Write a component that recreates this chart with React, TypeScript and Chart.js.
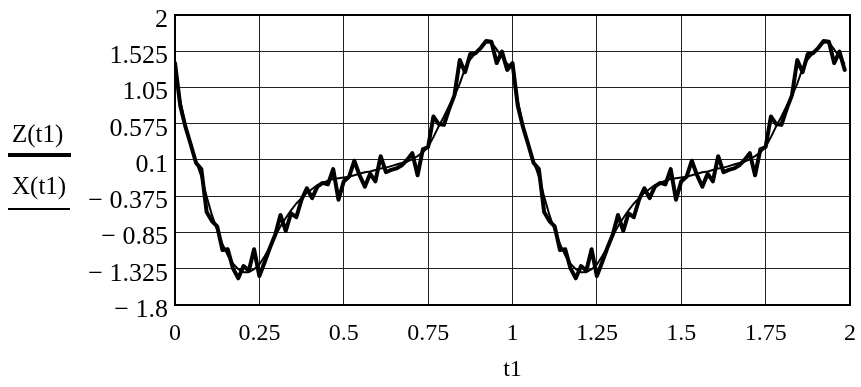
import React, { useEffect, useRef } from "react";
import { Chart, registerables } from "chart.js";

Chart.register(...registerables);

// Sampling: 64 samples per unit of t1, t1 = index / 64
const SAMPLES_PER_UNIT = 64;

// Z(t1): noisy signal (thick line), first period t1 in [0, 1)
const Z_PERIOD_1 = [
  1.37, 0.81, 0.53, 0.3, 0.06, -0.02, -0.58, -0.7, -0.77, -1.08, -1.07, -1.32, -1.45, -1.29, -1.35, -1.07,
  -1.42, -1.24, -1.05, -0.88, -0.62, -0.83, -0.6, -0.65, -0.42, -0.27, -0.4, -0.25, -0.2, -0.22, -0.02, -0.42,
  -0.18, -0.12, 0.09, -0.1, -0.25, -0.08, -0.18, 0.15, -0.06, -0.03, -0.01, 0.03, 0.1, 0.19, -0.1, 0.24,
  0.27, 0.67, 0.57, 0.56, 0.77, 0.95, 1.41, 1.25, 1.49, 1.5, 1.57, 1.66, 1.65, 1.37, 1.52, 1.28,
];
// Z(t1): second period t1 in [1, 2)
const Z_PERIOD_2 = [
  1.37, 0.81, 0.53, 0.3, 0.06, -0.02, -0.58, -0.7, -0.77, -1.08, -1.07, -1.32, -1.45, -1.29, -1.35, -1.07,
  -1.42, -1.24, -1.05, -0.88, -0.62, -0.83, -0.6, -0.65, -0.42, -0.27, -0.4, -0.25, -0.2, -0.22, -0.02, -0.42,
  -0.18, -0.12, 0.09, -0.1, -0.25, -0.08, -0.18, 0.15, -0.06, -0.03, -0.01, 0.03, 0.1, 0.19, -0.1, 0.24,
  0.27, 0.67, 0.57, 0.56, 0.77, 0.95, 1.41, 1.25, 1.49, 1.5, 1.57, 1.66, 1.65, 1.37, 1.52, 1.28,
];

// X(t1): smooth signal (thin line)
const X_PERIOD_1 = [
  1.33, 0.88, 0.55, 0.3, 0.08, -0.12, -0.38, -0.62, -0.82, -1.0, -1.15, -1.26, -1.33, -1.37, -1.37, -1.33,
  -1.27, -1.16, -1.04, -0.9, -0.77, -0.66, -0.56, -0.47, -0.4, -0.33, -0.28, -0.23, -0.2, -0.17, -0.15, -0.14,
  -0.13, -0.12, -0.1, -0.08, -0.06, -0.05, -0.03, -0.01, 0.0, 0.02, 0.04, 0.06, 0.08, 0.11, 0.15, 0.2,
  0.27, 0.4, 0.54, 0.67, 0.81, 0.94, 1.1, 1.3, 1.42, 1.5, 1.57, 1.64, 1.64, 1.55, 1.45, 1.36,
];
const X_PERIOD_2 = [
  1.33, 0.88, 0.55, 0.3, 0.08, -0.12, -0.38, -0.62, -0.82, -1.0, -1.15, -1.26, -1.33, -1.37, -1.37, -1.33,
  -1.27, -1.16, -1.04, -0.9, -0.77, -0.66, -0.56, -0.47, -0.4, -0.33, -0.28, -0.23, -0.2, -0.17, -0.15, -0.14,
  -0.13, -0.12, -0.1, -0.08, -0.06, -0.05, -0.03, -0.01, 0.0, 0.02, 0.04, 0.06, 0.08, 0.11, 0.15, 0.2,
  0.27, 0.4, 0.54, 0.67, 0.81, 0.94, 1.1, 1.3, 1.42, 1.5, 1.57, 1.64, 1.64, 1.55, 1.45, 1.36,
];

const Y_TICKS = [2, 1.525, 1.05, 0.575, 0.1, -0.375, -0.85, -1.325, -1.8];
const Y_TICK_LABELS = ["2", "1.525", "1.05", "0.575", "0.1", "\u2212 0.375", "\u2212 0.85", "\u2212 1.325", "\u2212 1.8"];
const X_TICKS = [0, 0.25, 0.5, 0.75, 1, 1.25, 1.5, 1.75, 2];
const X_TICK_LABELS = ["0", "0.25", "0.5", "0.75", "1", "1.25", "1.5", "1.75", "2"];

const SERIES_NAMES = ["Z(t1)", "X(t1)"];
const X_TITLE = "t1";

const FONT_FAMILY = "'Liberation Serif', 'Times New Roman', serif";

function toPoints(values: number[]) {
  return values.map((v, i) => ({ x: i / SAMPLES_PER_UNIT, y: v }));
}

function clearScalePadding(scale: any) {
  scale.paddingLeft = 0;
  scale.paddingRight = 0;
  scale.paddingTop = 0;
  scale.paddingBottom = 0;
}

const decorPlugin = {
  id: "decor",
  afterDraw(chart: any) {
    const { ctx, chartArea } = chart;
    ctx.save();
    // plot frame
    ctx.strokeStyle = "#000";
    ctx.lineWidth = 2;
    ctx.strokeRect(chartArea.left, chartArea.top, chartArea.right - chartArea.left, chartArea.bottom - chartArea.top);

    // x title
    ctx.fillStyle = "#000";
    ctx.font = `24px ${FONT_FAMILY}`;
    ctx.textAlign = "center";
    ctx.textBaseline = "alphabetic";
    ctx.fillText(X_TITLE, (chartArea.left + chartArea.right) / 2, chartArea.bottom + 71);

    // legend on the left
    ctx.font = `25px ${FONT_FAMILY}`;
    ctx.textAlign = "left";
    ctx.fillText(SERIES_NAMES[0], 12, 142);
    ctx.fillText(SERIES_NAMES[1], 12, 194);
    ctx.lineCap = "butt";
    ctx.lineWidth = 4;
    ctx.beginPath();
    ctx.moveTo(8, 155);
    ctx.lineTo(71, 155);
    ctx.stroke();
    ctx.lineWidth = 2;
    ctx.beginPath();
    ctx.moveTo(8, 209);
    ctx.lineTo(70, 209);
    ctx.stroke();
    ctx.restore();
  },
};

export default function App() {
  const canvasRef = useRef<HTMLCanvasElement | null>(null);

  useEffect(() => {
    const canvas = canvasRef.current;
    if (!canvas) return;
    const zData = toPoints(Z_PERIOD_1.concat(Z_PERIOD_2));
    const xData = toPoints(X_PERIOD_1.concat(X_PERIOD_2));

    const chart = new Chart(canvas, {
      type: "line",
      data: {
        datasets: [
          {
            label: SERIES_NAMES[0],
            data: zData,
            borderColor: "#000",
            borderWidth: 4,
            pointRadius: 0,
            tension: 0,
            borderJoinStyle: "round",
            borderCapStyle: "round",
          },
          {
            label: SERIES_NAMES[1],
            data: xData,
            borderColor: "#000",
            borderWidth: 2,
            pointRadius: 0,
            tension: 0,
            borderJoinStyle: "round",
          },
        ],
      },
      options: {
        responsive: false,
        animation: false,
        layout: { padding: { left: 0, right: 11, top: 15, bottom: 0 } },
        plugins: {
          legend: { display: false },
          tooltip: { enabled: false },
        },
        scales: {
          x: {
            type: "linear",
            min: 0,
            max: 2,
            afterBuildTicks: (scale: any) => {
              scale.ticks = X_TICKS.map((v) => ({ value: v }));
            },
            afterFit: (scale: any) => {
              scale.height = 82;
              clearScalePadding(scale);
            },
            ticks: {
              autoSkip: false,
              maxRotation: 0,
              padding: 14,
              color: "#000",
              font: { family: FONT_FAMILY, size: 24 },
              callback: (_v: any, i: number) => X_TICK_LABELS[i],
            },
            grid: { color: "#222", lineWidth: 1, drawTicks: false },
            border: { display: false },
          },
          y: {
            type: "linear",
            min: -1.8,
            max: 2,
            afterBuildTicks: (scale: any) => {
              scale.ticks = Y_TICKS.map((v) => ({ value: v }));
            },
            afterFit: (scale: any) => {
              scale.width = 175;
              clearScalePadding(scale);
            },
            ticks: {
              autoSkip: false,
              padding: 7,
              labelOffset: 5,
              color: "#000",
              font: { family: FONT_FAMILY, size: 26 },
              callback: (_v: any, i: number) => Y_TICK_LABELS[i],
            },
            grid: { color: "#222", lineWidth: 1, drawTicks: false },
            border: { display: false },
          },
        },
      },
      plugins: [decorPlugin],
    } as any);

    return () => chart.destroy();
  }, []);

  return (
    <div style={{ position: "fixed", left: 0, top: 0, width: 861, height: 387, background: "#fff" }}>
      <canvas ref={canvasRef} width={861} height={387} style={{ display: "block" }} />
    </div>
  );
}
